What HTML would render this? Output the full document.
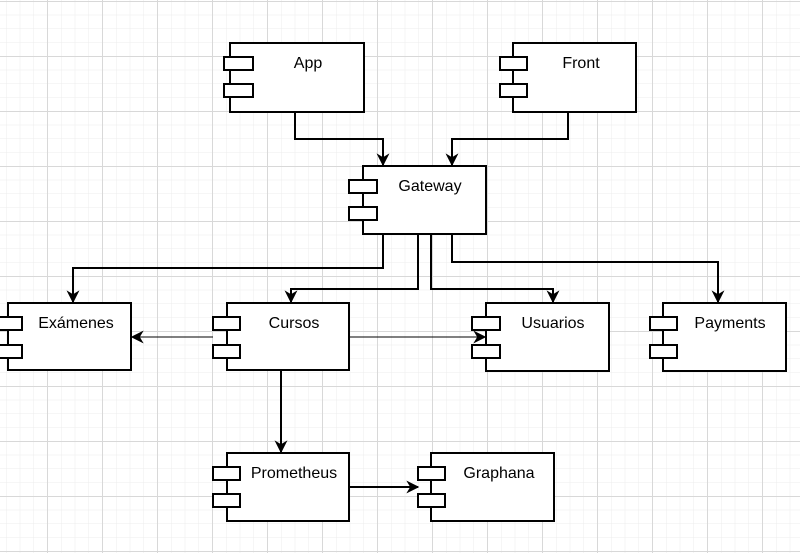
<!DOCTYPE html>
<html><head><meta charset="utf-8"><style>
html,body{margin:0;padding:0;background:#fff;}
svg{display:block;}
text{font-family:"Liberation Sans",sans-serif;font-size:16px;fill:#000;}
</style></head><body>
<svg width="800" height="553" xmlns="http://www.w3.org/2000/svg">
<defs>
<pattern id="minor" width="13.75" height="13.75" patternUnits="userSpaceOnUse" x="6" y="1">
<path d="M0 0H13.75M0 0V13.75" stroke="#ececec" stroke-width="1" fill="none"/>
</pattern>
<pattern id="major" width="55" height="55" patternUnits="userSpaceOnUse" x="47" y="1">
<path d="M0 0.5H55M0.5 0V55" stroke="#d8d8d8" stroke-width="1" fill="none"/>
</pattern>
<marker id="ar" viewBox="0 0 10 10" refX="9" refY="5" markerWidth="13" markerHeight="13" markerUnits="userSpaceOnUse" orient="auto">
<path d="M0 0L10 5L0 10L3 5Z" fill="#000"/>
</marker>
</defs>
<rect width="800" height="553" fill="url(#minor)"/>
<rect width="800" height="553" fill="url(#major)"/>
<g stroke="#000" stroke-width="2" fill="none">
<path d="M295 112V139H383V165" marker-end="url(#ar)"/>
<path d="M568 112V139H452V165" marker-end="url(#ar)"/>
<path d="M383 235V268H73V302" marker-end="url(#ar)"/>
<path d="M418 235V289H291V302" marker-end="url(#ar)"/>
<path d="M431 235V289H553V302" marker-end="url(#ar)"/>
<path d="M452 235V262H718V302" marker-end="url(#ar)"/>
<path d="M281 371V452" marker-end="url(#ar)"/>
<path d="M349 487H418" marker-end="url(#ar)"/>
</g>
<g stroke="#000" stroke-width="1" fill="none">
<path d="M213 337H132" marker-end="url(#ar)"/>
<path d="M349 337H485" marker-end="url(#ar)"/>
</g>
<g stroke="#000" stroke-width="2" fill="#fff">
<rect x="230" y="43" width="134" height="69"/>
<rect x="224" y="57" width="29" height="13"/><rect x="224" y="84" width="29" height="13"/>
<rect x="513" y="43" width="123" height="69"/>
<rect x="500" y="57" width="27" height="13"/><rect x="500" y="84" width="27" height="13"/>
<rect x="363" y="166" width="123" height="68"/>
<rect x="349" y="180" width="28" height="13"/><rect x="349" y="207" width="28" height="13"/>
<rect x="8" y="303" width="123" height="67"/>
<rect x="-2" y="317" width="24" height="13"/><rect x="-2" y="345" width="24" height="13"/>
<rect x="227" y="303" width="122" height="67"/>
<rect x="213" y="317" width="27" height="13"/><rect x="213" y="345" width="27" height="13"/>
<rect x="486" y="303" width="123" height="68"/>
<rect x="472" y="317" width="28" height="13"/><rect x="472" y="345" width="28" height="13"/>
<rect x="663" y="303" width="123" height="68"/>
<rect x="650" y="317" width="27" height="13"/><rect x="650" y="345" width="27" height="13"/>
<rect x="227" y="453" width="122" height="68"/>
<rect x="213" y="467" width="27" height="13"/><rect x="213" y="494" width="27" height="13"/>
<rect x="431" y="453" width="123" height="68"/>
<rect x="418" y="467" width="27" height="13"/><rect x="418" y="494" width="27" height="13"/>
</g>
<g text-anchor="middle">
<text x="308" y="68">App</text>
<text x="581" y="68">Front</text>
<text x="430" y="191">Gateway</text>
<text x="76" y="328">Exámenes</text>
<text x="294" y="328">Cursos</text>
<text x="553" y="328">Usuarios</text>
<text x="730" y="328">Payments</text>
<text x="294" y="478">Prometheus</text>
<text x="499" y="478">Graphana</text>
</g>
</svg>
</body></html>
